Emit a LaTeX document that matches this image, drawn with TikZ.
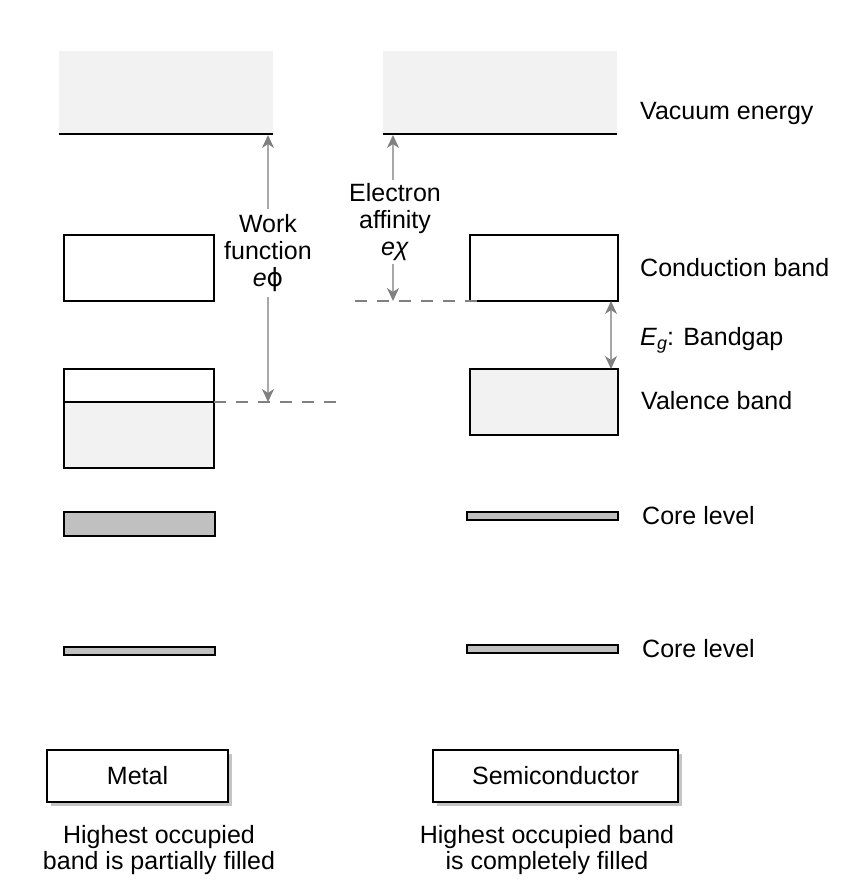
\documentclass[tikz,border=0pt]{standalone}
\usepackage{fontspec}
\setmainfont{Liberation Sans}
\newfontfamily\symfont{DejaVu Sans}
\usetikzlibrary{arrows.meta,shadows}
\definecolor{lightfill}{HTML}{F2F2F2}
\definecolor{corefill}{HTML}{C0C0C0}
\definecolor{arrowgray}{HTML}{A8A8A8}
\definecolor{headgray}{HTML}{808080}
\definecolor{dashgray}{HTML}{808080}
\definecolor{shadowgray}{HTML}{C4C4C4}
\begin{document}
\begin{tikzpicture}[x=1pt,y=-1pt,
  font=\fontsize{25}{26}\selectfont,
  band/.style={draw=black,line width=1.8pt,inner sep=0pt,outer sep=0pt},
  vac/.style={fill=lightfill,inner sep=0pt,outer sep=0pt},
  vacline/.style={draw=black,line width=1.8pt},
  lbl/.style={anchor=base west,inner sep=0pt},
  midlbl/.style={align=center,inner sep=5pt,font=\fontsize{25}{27}\selectfont},
  energy/.style={draw=arrowgray,line width=1.5pt,-{Stealth[length=13pt,width=12pt,inset=4pt,color=headgray]}},
  gap/.style={draw=arrowgray,line width=1.5pt,{Stealth[length=13pt,width=12pt,inset=4pt,color=headgray]}-{Stealth[length=13pt,width=12pt,inset=4pt,color=headgray]}},
  dashline/.style={draw=dashgray,line width=1.3pt,dash pattern=on 12pt off 10pt},
  kindbox/.style={draw=black,line width=1.6pt,fill=white,inner sep=0pt,minimum height=52pt,
    drop shadow={shadow xshift=4pt,shadow yshift=-4pt,fill=shadowgray,opacity=1}},
  caption/.style={align=center,inner sep=0pt,font=\fontsize{25}{26}\selectfont}
]
\useasboundingbox (0,0) rectangle (867,889);

% vacuum regions
\node[vac,minimum width=214pt,minimum height=83pt] (mvac) at (166,92.5) {};
\draw[vacline] (mvac.south west) -- (mvac.south east);
\node[vac,minimum width=234pt,minimum height=83pt] (svac) at (500,92.5) {};
\draw[vacline] (svac.south west) -- (svac.south east);

% metal bands
\node[band,fill=white,minimum width=150pt,minimum height=66pt] (mcb) at (139,268) {};
\node[band,fill=white,minimum width=150pt,minimum height=33pt] (mvbtop) at (139,385.5) {};
\node[band,fill=lightfill,minimum width=150pt,minimum height=66pt] (mvbbot) at (139,435) {};
\node[band,fill=corefill,minimum width=151pt,minimum height=24pt] (mcore1) at (139.5,524) {};
\node[band,fill=corefill,minimum width=151pt,minimum height=8pt] (mcore2) at (139.5,651) {};

% semiconductor bands
\node[band,fill=white,minimum width=148pt,minimum height=66pt] (scb) at (544,268) {};
\node[band,fill=lightfill,minimum width=148pt,minimum height=66pt] (svb) at (544,402) {};
\node[band,fill=corefill,minimum width=151pt,minimum height=8pt] (score1) at (542.5,516) {};
\node[band,fill=corefill,minimum width=151pt,minimum height=8pt] (score2) at (542.5,649) {};

% dashed reference lines
\coordinate (mdashend) at (343,402);
\draw[dashline] (mvbtop.south east) -- (mdashend);
\coordinate (sdashstart) at (355,301);
\draw[dashline] (sdashstart) -- ([xshift=8pt]scb.south west);

% work function
\node[midlbl] (wf) at (268,253) {Work\\function\\\textit{e}{\symfont ϕ}};
\coordinate (wftop) at (268,135);
\coordinate (wfbot) at (268,402);
\draw[energy] (wf.north) -- (wftop);
\draw[energy] (wf.south) -- (wfbot);

% electron affinity
\node[midlbl,inner sep=3pt] (ea) at (395,222) {Electron\\affinity\\\textit{eχ}};
\coordinate (eatop) at (393,135);
\coordinate (eabot) at (393,301);
\draw[energy] (ea.north -| eatop) -- (eatop);
\draw[energy] (ea.south -| eabot) -- (eabot);

% band gap
\coordinate (gtop) at (611,301);
\coordinate (gbot) at (611,369);
\draw[gap] (gtop) -- (gbot);

% right-hand labels
\node[lbl] (lvac) at (640,119) {Vacuum energy};
\node[lbl] (lcb) at (640,276) {Conduction band};
\node[lbl] (lgap) at (640,345) {\textit{E}\raisebox{-0.35ex}{\fontsize{18}{18}\selectfont\textit{g}}: Bandgap};
\node[lbl] (lvb) at (641,409) {Valence band};
\node[lbl] (lcore1) at (642,524) {Core level};
\node[lbl] (lcore2) at (642,657) {Core level};

% kind boxes
\node[kindbox,minimum width=181pt] (metal) at (137.5,776) {Metal};
\node[kindbox,minimum width=245pt] (semi) at (555.5,776) {Semiconductor};
\node[caption] (mcap) at (159,850) {Highest occupied\\band is partially filled};
\node[caption] (scap) at (547,850) {Highest occupied band\\is completely filled};
\end{tikzpicture}
\end{document}
